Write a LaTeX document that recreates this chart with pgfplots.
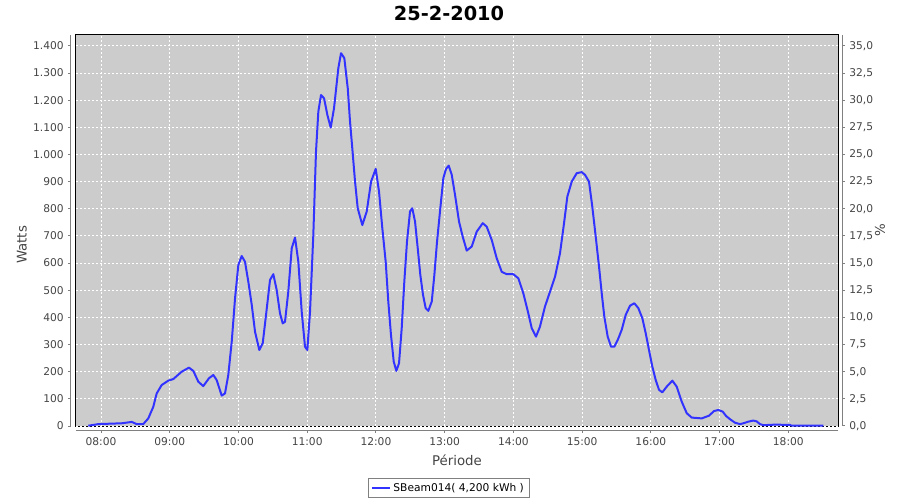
\documentclass[border=0pt]{standalone}
\usepackage{fontspec}
\setmainfont{DejaVu Sans}
\usepackage{pgfplots}
\pgfplotsset{compat=1.18}
\definecolor{plotbg}{RGB}{204,204,204}
\definecolor{linecol}{RGB}{51,51,255}
\definecolor{axgray}{RGB}{128,128,128}
\definecolor{txtgray}{RGB}{68,68,68}
\begin{document}
\begin{tikzpicture}
\path (-57pt,-55.5pt) rectangle (618pt,319.5pt);
\begin{axis}[
  at={(0,0)}, anchor=south west,
  width=571.5pt, height=293.25pt, scale only axis,
  xmin=7.636, xmax=18.723, ymin=0, ymax=1440,
  axis x line=bottom, axis y line=left,
  axis x line shift=3pt, axis y line shift=3.75pt,
  axis line style={draw=axgray, -, line width=0.75pt},
  axis background/.style={fill=plotbg, draw=black, line width=0.75pt},
  grid=major,
  major grid style={white, dash pattern=on 1.5pt off 1.5pt, line width=0.75pt},
  xtick={8,9,10,11,12,13,14,15,16,17,18},
  xticklabels={08:00,09:00,10:00,11:00,12:00,13:00,14:00,15:00,16:00,17:00,18:00},
  ytick={0,100,200,300,400,500,600,700,800,900,1000,1100,1200,1300,1400},
  tick align=outside, major tick length=2pt,
  tick style={draw=axgray, line width=0.75pt},
  tick label style={font=\fontsize{8}{9}\selectfont, text=txtgray},
  /pgf/number format/assume math mode=true,
  /pgf/number format/1000 sep={.},
  ylabel={Watts},
  ylabel style={font=\fontsize{10}{12}\selectfont, text=txtgray, at={(axis description cs:-0.0709,0.463)}, anchor=center},
  xlabel={Période},
  xlabel style={font=\fontsize{10}{12}\selectfont, text=txtgray, at={(axis description cs:0.5,-0.087)}, anchor=center},
  every axis title shift=0pt,
  title={25-2-2010},
  title style={font=\bfseries\fontsize{14.5}{16}\selectfont, at={(axis description cs:0.4895,1)}, anchor=base, yshift=10.5pt},
  legend style={at={(axis description cs:0.4895,-0.133)}, anchor=north, draw=axgray, line width=0.5pt,
    font=\fontsize{8}{9}\selectfont, inner xsep=2pt, inner ysep=1.5pt, cells={anchor=west}},
  legend image code/.code={\draw[#1] (0pt,0pt) -- (13pt,0pt);},
]
\addplot[linecol, line width=1.5pt, line join=round] table {
x y
7.815 1
7.961 7
8.301 10
8.447 15
8.519 7
8.615 7
8.688 28
8.761 71
8.810 120
8.883 151
8.979 167
9.052 173
9.174 200
9.280 215
9.343 203
9.416 163
9.488 147
9.571 176
9.634 188
9.683 169
9.756 112
9.804 120
9.852 188
9.902 311
9.950 470
9.998 593
10.047 626
10.095 605
10.143 532
10.193 446
10.241 347
10.303 280
10.353 305
10.401 409
10.459 538
10.507 559
10.556 501
10.604 415
10.644 378
10.677 384
10.725 495
10.775 655
10.823 694
10.871 605
10.920 421
10.968 292
11.002 280
11.041 421
11.089 704
11.128 1011
11.162 1158
11.201 1219
11.245 1207
11.293 1146
11.342 1099
11.390 1170
11.453 1318
11.492 1373
11.540 1355
11.590 1244
11.623 1121
11.656 1023
11.696 900
11.735 802
11.802 740
11.866 790
11.929 900
11.997 947
12.045 863
12.093 728
12.142 605
12.180 458
12.219 335
12.259 237
12.297 203
12.336 231
12.375 360
12.413 532
12.452 679
12.496 790
12.529 802
12.569 753
12.608 655
12.646 556
12.685 483
12.724 434
12.762 424
12.812 458
12.850 556
12.889 679
12.932 790
12.981 913
13.020 947
13.059 959
13.103 925
13.151 851
13.209 753
13.263 697
13.321 646
13.394 661
13.467 716
13.554 747
13.612 734
13.685 685
13.757 618
13.830 568
13.903 559
13.999 559
14.072 544
14.144 489
14.217 415
14.267 360
14.329 329
14.387 366
14.460 440
14.533 495
14.606 550
14.678 636
14.737 747
14.785 845
14.849 900
14.921 931
14.994 935
15.042 925
15.100 900
15.148 808
15.198 697
15.246 587
15.285 489
15.323 403
15.372 329
15.421 292
15.469 292
15.518 317
15.576 354
15.634 409
15.697 443
15.760 452
15.818 434
15.876 397
15.925 342
15.973 280
16.022 218
16.071 169
16.119 133
16.167 124
16.231 145
16.313 167
16.376 145
16.449 90
16.522 47
16.595 31
16.740 28
16.846 38
16.919 55
16.982 59
17.046 53
17.094 37
17.152 25
17.225 12
17.298 7
17.345 10
17.418 16
17.491 20
17.540 17
17.588 7
17.636 3
17.807 5
18.025 4
18.050 1
18.510 1
};
\addlegendentry{SBeam014( 4,200 kWh )}
\end{axis}
\begin{axis}[
  at={(0,0)}, anchor=south west,
  width=571.5pt, height=293.25pt, scale only axis,
  xmin=7.636, xmax=18.723, ymin=0, ymax=36,
  axis x line=none, axis y line=right,
  axis y line shift=3pt,
  axis line style={draw=axgray, -, line width=0.75pt},
  ytick={0,2.5,5,7.5,10,12.5,15,17.5,20,22.5,25,27.5,30,32.5,35},
  tick align=outside, major tick length=2pt,
  tick style={draw=axgray, line width=0.75pt},
  tick label style={font=\fontsize{8}{9}\selectfont, text=txtgray},
  /pgf/number format/assume math mode=true,
  /pgf/number format/.cd, fixed, fixed zerofill, precision=1, use comma,
  /pgfplots/.cd,
  ylabel={\%},
  ylabel style={font=\fontsize{10}{12}\selectfont, text=txtgray, at={(axis description cs:1.0551,0.5)}, anchor=center},
]
\addplot[draw=none] coordinates {(8,0)};
\end{axis}
\end{tikzpicture}
\end{document}
